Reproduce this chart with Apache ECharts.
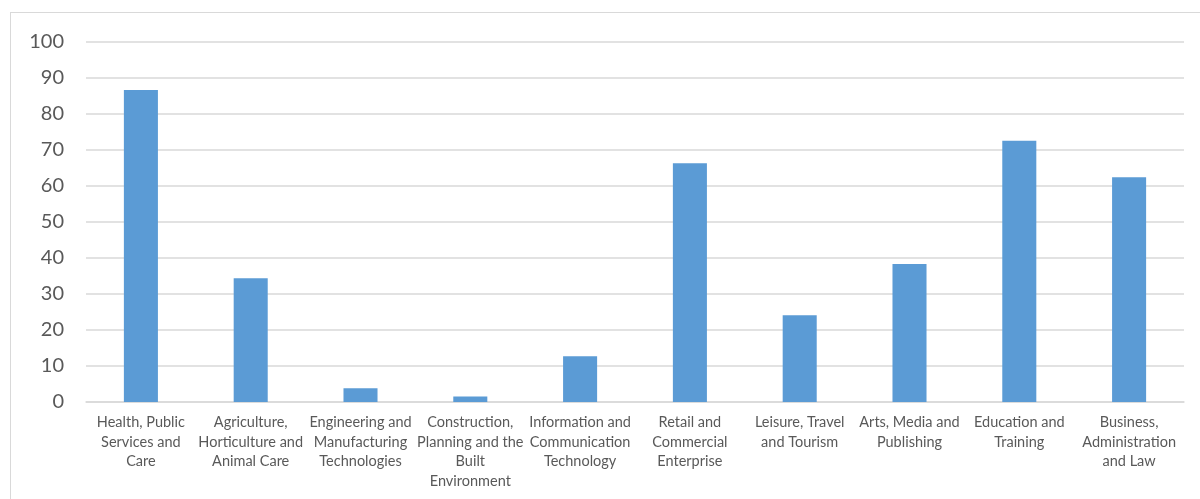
<!DOCTYPE html>
<html>
<head>
<meta charset="utf-8">
<script src="https://cdn.jsdelivr.net/npm/echarts@6/dist/echarts.min.js"></script>
<style>
html,body{margin:0;padding:0;background:#fff;}
#frame{position:absolute;left:10px;top:12px;width:1200px;height:500px;border:1px solid #d9d9d9;box-sizing:border-box;}
#chart{position:absolute;left:0;top:0;width:1200px;height:499px;}
</style>
</head>
<body>
<div id="frame"></div>
<div id="chart"></div>
<script>
const categories = [
  "Health, Public\nServices and\nCare",
  "Agriculture,\nHorticulture and\nAnimal Care",
  "Engineering and\nManufacturing\nTechnologies",
  "Construction,\nPlanning and the\nBuilt\nEnvironment",
  "Information and\nCommunication\nTechnology",
  "Retail and\nCommercial\nEnterprise",
  "Leisure, Travel\nand Tourism",
  "Arts, Media and\nPublishing",
  "Education and\nTraining",
  "Business,\nAdministration\nand Law"
];
const values = [86.7, 34.4, 3.8, 1.5, 12.7, 66.3, 24.1, 38.3, 72.6, 62.4];
const yTicks = { min: 0, max: 100, interval: 10 };

const chart = echarts.init(document.getElementById('chart'));
chart.setOption({
  animation: false,
  grid: { left: 86, right: 16, top: 42, bottom: 97, containLabel: false },
  xAxis: {
    type: 'category',
    data: categories,
    axisLine: { lineStyle: { color: '#d9d9d9', width: 1.5 } },
    axisTick: { show: false },
    axisLabel: {
      interval: 0,
      color: '#595959',
      fontFamily: 'Lato, "Open Sans", sans-serif',
      fontSize: 14.5,
      lineHeight: 19.5,
      margin: 11,
      align: 'center'
    }
  },
  yAxis: {
    type: 'value',
    min: yTicks.min, max: yTicks.max, interval: yTicks.interval,
    axisLine: { show: false },
    axisTick: { show: false },
    splitLine: { lineStyle: { color: '#d9d9d9', width: 1.5 } },
    axisLabel: {
      color: '#595959',
      fontFamily: 'Lato, "Open Sans", sans-serif',
      fontSize: 20,
      margin: 22
    }
  },
  series: [{
    type: 'bar',
    data: values,
    barWidth: '31%',
    itemStyle: { color: '#5b9bd5' }
  }]
});
</script>
</body>
</html>
